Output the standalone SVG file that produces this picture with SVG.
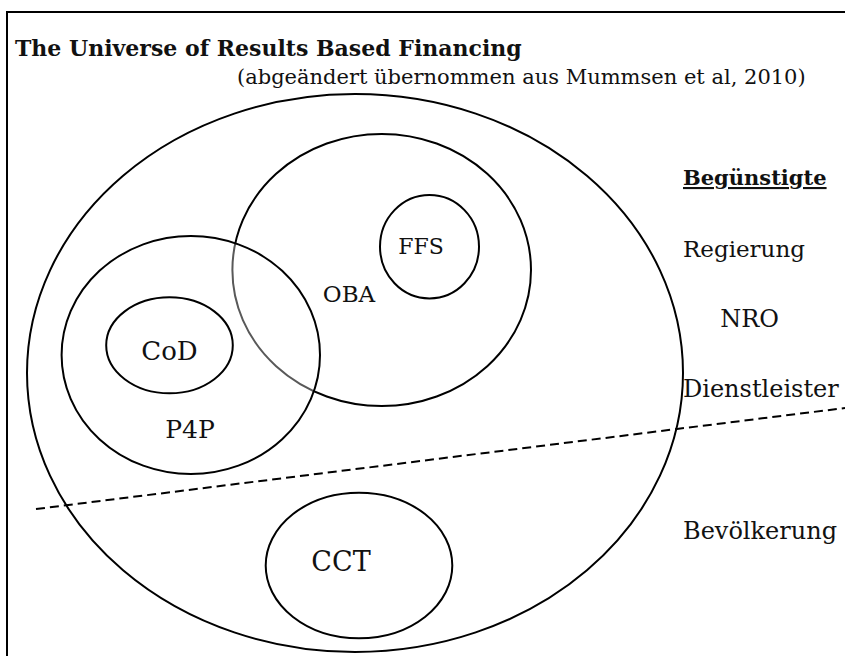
<svg xmlns="http://www.w3.org/2000/svg" width="845" height="656" viewBox="0 0 845 656">
  <style>
    .shape { fill: none; stroke: #000; stroke-width: 2; }
    .lbl { font-family: "DejaVu Serif", "Liberation Serif", serif; fill: #111; }
    .mid { text-anchor: middle; }
  </style>
  <rect width="845" height="656" fill="#fff"/>

  <!-- outer frame, open at right and bottom -->
  <rect x="7" y="12" width="860" height="680" class="shape"/>

  <!-- heading -->
  <g id="heading">
    <text x="15" y="56" class="lbl" font-size="22" font-weight="bold">The Universe of Results Based Financing</text>
    <text x="237" y="84" class="lbl" font-size="21">(abgeändert übernommen aus Mummsen et al, 2010)</text>
  </g>

  <!-- universe: all RBF -->
  <g id="universe">
    <ellipse cx="355" cy="373" rx="328" ry="279" class="shape"/>
  </g>

  <!-- OBA with FFS inside -->
  <g id="oba">
    <ellipse cx="381.7" cy="270" rx="149.3" ry="136" class="shape"/>
    <text x="349" y="302" class="lbl mid" font-size="23">OBA</text>
  </g>
  <g id="ffs">
    <ellipse cx="429.5" cy="246.7" rx="49.5" ry="51.7" class="shape"/>
    <text x="421" y="254" class="lbl mid" font-size="22">FFS</text>
  </g>

  <!-- P4P (semi-opaque fill softens the OBA edge behind it) -->
  <g id="p4p">
    <ellipse cx="190.8" cy="355" rx="129.2" ry="119" fill="#fff" fill-opacity="0.35" stroke="#000" stroke-width="2"/>
    <text x="190" y="438" class="lbl mid" font-size="25">P4P</text>
  </g>
  <g id="cod">
    <ellipse cx="169.5" cy="345.3" rx="63.3" ry="48" class="shape"/>
    <text x="169.5" y="360" class="lbl mid" font-size="26">CoD</text>
  </g>

  <!-- CCT -->
  <g id="cct">
    <ellipse cx="359" cy="565.5" rx="93.3" ry="72.8" class="shape"/>
    <text x="341" y="571" class="lbl mid" font-size="27">CCT</text>
  </g>

  <!-- divider between provider side and population side -->
  <g id="connectors">
    <line x1="36" y1="509" x2="845" y2="408" stroke="#000" stroke-width="2" stroke-dasharray="9 5"/>
  </g>

  <!-- beneficiaries column -->
  <g id="beneficiaries">
    <text x="683" y="185" class="lbl" font-size="21" font-weight="bold" text-decoration="underline">Begünstigte</text>
    <text x="683" y="257" class="lbl" font-size="23">Regierung</text>
    <text x="749.5" y="327" class="lbl mid" font-size="24">NRO</text>
    <text x="683" y="397" class="lbl" font-size="24">Dienstleister</text>
    <text x="683" y="539" class="lbl" font-size="24">Bevölkerung</text>
  </g>
</svg>
